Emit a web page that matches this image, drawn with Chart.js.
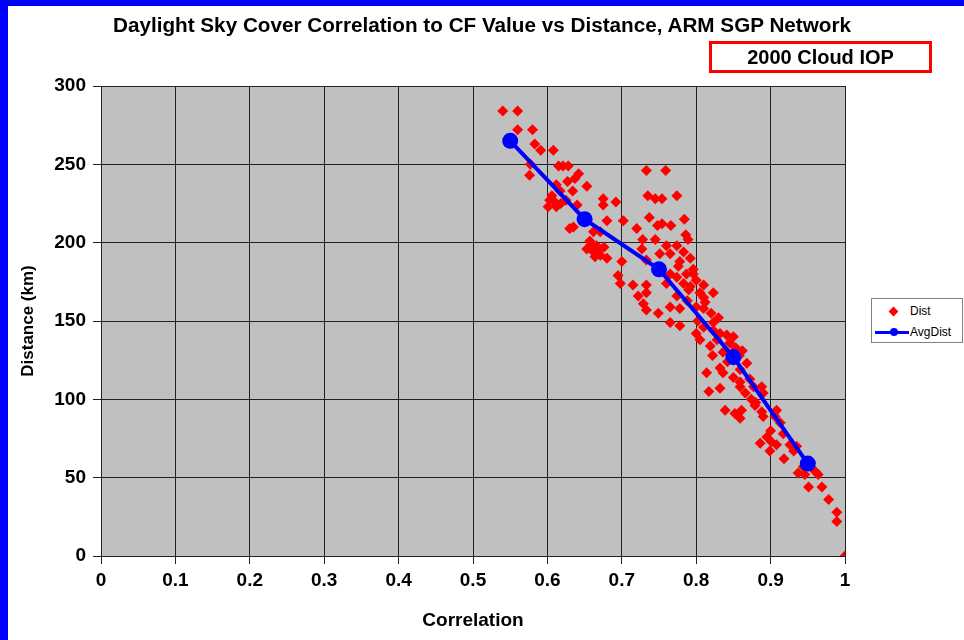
<!DOCTYPE html>
<html>
<head>
<meta charset="utf-8">
<title>Daylight Sky Cover Correlation</title>
<script src="https://cdn.jsdelivr.net/npm/chart.js@4.4.0/dist/chart.umd.min.js"></script>
<style>
  body { margin: 0; background: #fff; }
  #wrap { position: relative; width: 964px; height: 640px; overflow: hidden; font-family: "Liberation Sans", Arial, sans-serif; }
  #wrap canvas { position: absolute; left: 0; top: 0; }
  .bar { position: absolute; background: #0000ff; }
  #title { position: absolute; left: 0; top: 13px; width: 964px; text-align: center; font-weight: bold; font-size: 20.7px; color: #000; }
  #iop { position: absolute; left: 709px; top: 41px; width: 223px; height: 32px; box-sizing: border-box; border: 3px solid #ff0000; text-align: center; line-height: 26px; font-weight: bold; font-size: 20px; }
  #legend { position: absolute; left: 871px; top: 298px; width: 92px; height: 45px; box-sizing: border-box; border: 1px solid #808080; background: #fff; font-size: 12px; }
  #legend .row { position: absolute; left: 38px; }
  .dia { position: absolute; width: 7px; height: 7px; background: #ff0000; transform: rotate(45deg); }
  .ln { position: absolute; height: 3px; background: #0000ff; }
  .dot { position: absolute; width: 8px; height: 8px; border-radius: 50%; background: #0000ff; }
</style>
</head>
<body>
<div id="wrap">
  <canvas id="skyChart" width="964" height="640"></canvas>
  <div class="bar" style="left:0;top:0;width:964px;height:6px"></div>
  <div class="bar" style="left:0;top:0;width:8px;height:640px"></div>
  <div id="title">Daylight Sky Cover Correlation to CF Value vs Distance, ARM SGP Network</div>
  <div id="iop">2000 Cloud IOP</div>
  <div id="legend">
    <div class="dia" style="left:18px;top:9px"></div>
    <div class="row" style="top:5px">Dist</div>
    <div class="ln" style="left:3px;top:32px;width:34px"></div>
    <div class="dot" style="left:18px;top:29px"></div>
    <div class="row" style="top:26px">AvgDist</div>
  </div>
</div>
<script>
// individual station pairs (correlation, distance km)
const distCorr = [
  0.54, 0.56, 0.56, 0.58, 0.583, 0.591, 0.608, 0.577, 0.615, 0.621,
  0.628, 0.576, 0.642, 0.637, 0.627, 0.653, 0.612, 0.634, 0.617, 0.603,
  0.61, 0.601, 0.612, 0.625, 0.64, 0.675, 0.675, 0.692, 0.68, 0.702,
  0.635, 0.63, 0.662, 0.671, 0.657, 0.666, 0.653, 0.662, 0.671, 0.68,
  0.7, 0.733, 0.759, 0.735, 0.745, 0.754, 0.774, 0.737, 0.748, 0.754,
  0.766, 0.784, 0.72, 0.728, 0.745, 0.789, 0.727, 0.76, 0.774, 0.751,
  0.765, 0.783, 0.792, 0.733, 0.778, 0.695, 0.698, 0.715, 0.733, 0.765,
  0.774, 0.787, 0.796, 0.76, 0.783, 0.792, 0.722, 0.733, 0.729, 0.774,
  0.805, 0.823, 0.765, 0.778, 0.8, 0.81, 0.733, 0.749, 0.796, 0.81,
  0.81, 0.81, 0.823, 0.832, 0.841, 0.8, 0.805, 0.819, 0.85, 0.868,
  0.859, 0.814, 0.836, 0.765, 0.778, 0.823, 0.817, 0.832, 0.85, 0.859,
  0.872, 0.877, 0.859, 0.888, 0.89, 0.839, 0.852, 0.859, 0.861, 0.879,
  0.888, 0.89, 0.908, 0.906, 0.913, 0.886, 0.901, 0.908, 0.899, 0.926,
  0.935, 0.931, 0.937, 0.946, 0.96, 0.964, 0.951, 0.969, 0.978, 0.989,
  0.989, 1.0, 0.828, 0.845, 0.853, 0.862, 0.836, 0.85, 0.858, 0.606,
  0.618, 0.659, 0.668, 0.676, 0.664, 0.79, 0.8, 0.812, 0.82, 0.83,
  0.802, 0.788, 0.776, 0.786, 0.822, 0.842, 0.832, 0.866, 0.874, 0.9,
  0.895, 0.917, 0.88, 0.918, 0.944
];
const distKm = [
  284, 284, 272, 272, 263, 259, 259, 250, 249, 249,
  249, 243, 244, 241, 239, 236, 237, 233, 233, 227,
  226, 223, 223, 227, 224, 228, 224, 226, 214, 214,
  210, 209, 207, 207, 201, 198, 196, 194, 192, 190,
  188, 246, 246, 230, 228, 228, 230, 216, 211, 212,
  211, 215, 209, 202, 202, 202, 196, 198, 198, 193,
  193, 194, 190, 189, 188, 179, 174, 173, 173, 180,
  178, 180, 180, 174, 174, 172, 166, 168, 161, 166,
  168, 168, 159, 158, 159, 158, 157, 155, 183, 173,
  165, 146, 144, 142, 141, 142, 138, 134, 125, 123,
  119, 117, 117, 149, 147, 149, 105, 107, 114, 111,
  113, 108, 108, 108, 104, 93, 91, 88, 93, 96,
  92, 89, 93, 89, 85, 72, 73, 71, 67, 71,
  70, 67, 53, 52, 54, 52, 44, 44, 36, 28,
  22, 0, 138, 136, 133, 131, 130, 140, 128, 230,
  225, 199, 195, 197, 191, 170, 176, 162, 155, 152,
  150, 163, 185, 205, 128, 124, 120, 104, 100, 80,
  76, 78, 98, 62, 57
];
// binned averages
const avgCorr = [0.55, 0.65, 0.75, 0.85, 0.95];
const avgKm = [265, 215, 183, 127, 59];

const xTicks = { min: 0, max: 1, step: 0.1 };
const yTicks = { min: 0, max: 300, step: 50 };

const plotBg = {
  id: 'plotBg',
  beforeDraw(chart) {
    const { ctx, chartArea: a } = chart;
    ctx.save();
    ctx.fillStyle = '#c0c0c0';
    ctx.fillRect(a.left, a.top, a.right - a.left, a.bottom - a.top);
    ctx.restore();
  }
};

const fam = '"Liberation Sans", Arial, sans-serif';
const tickFont = { family: fam, size: 19, weight: 'bold' };

new Chart(document.getElementById('skyChart'), {
  type: 'scatter',
  data: {
    datasets: [
      {
        label: 'Dist',
        data: distCorr.map((c, i) => ({ x: c, y: distKm[i] })),
        pointStyle: 'rectRot',
        pointRadius: 5.5,
        backgroundColor: '#ff0000',
        borderWidth: 0,
        order: 1
      },
      {
        label: 'AvgDist',
        type: 'line',
        data: avgCorr.map((c, i) => ({ x: c, y: avgKm[i] })),
        borderColor: '#0000ff',
        backgroundColor: '#0000ff',
        borderWidth: 4,
        pointRadius: 8,
        pointBorderWidth: 0,
        tension: 0,
        order: 0
      }
    ]
  },
  options: {
    responsive: false,
    animation: false,
    layout: { padding: { left: 0, top: 86, right: 119, bottom: 0 } },
    plugins: { legend: { display: false }, tooltip: { enabled: false } },
    scales: {
      x: {
        type: 'linear',
        min: xTicks.min,
        max: xTicks.max,
        afterFit: (s) => { s.height = 84; },
        ticks: {
          stepSize: xTicks.step,
          color: '#000',
          font: tickFont,
          padding: 5,
          maxRotation: 0,
          callback: (v) => String(Math.round(v * 10) / 10)
        },
        grid: { color: '#222', lineWidth: 1, tickLength: 8 },
        border: { color: '#222' },
        title: { display: true, text: 'Correlation', color: '#000', font: { family: fam, size: 19, weight: 'bold' }, padding: { bottom: 8 } }
      },
      y: {
        min: yTicks.min,
        max: yTicks.max,
        afterFit: (s) => { s.width = 101; },
        ticks: { stepSize: yTicks.step, color: '#000', font: tickFont, padding: 7 },
        grid: { color: '#222', lineWidth: 1, tickLength: 8 },
        border: { color: '#222' },
        title: { display: true, text: 'Distance (km)', color: '#000', font: { family: fam, size: 17, weight: 'bold' }, padding: { top: 18 } }
      }
    }
  },
  plugins: [plotBg]
});
</script>
</body>
</html>
